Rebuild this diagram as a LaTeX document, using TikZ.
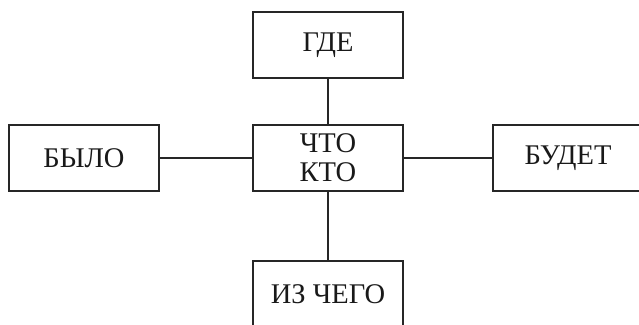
\documentclass[tikz,border=0pt]{standalone}
\usepackage{fontspec}
\setmainfont{Liberation Serif}
\begin{document}
\begin{tikzpicture}[x=1pt,y=1pt,
  box/.style={draw=black!85, line width=1.1pt, minimum width=150pt, minimum height=66pt,
    inner sep=0pt, align=center, font=\fontsize{28.5}{29}\selectfont, text=black!90},
  link/.style={draw=black!85, line width=1.1pt}]
\useasboundingbox (0,0) rectangle (639,324);
\clip (0,0) rectangle (639,324);
\node[box] (c) at (328,166) {ЧТО\\КТО};
\node[box] (t) at (328,279) {ГДЕ};
\node[box] (l) at (84,166) {БЫЛО};
\node[box] (r) at (568,166) {БУДЕТ};
\node[box] (b) at (328,30) {ИЗ ЧЕГО};
\draw[link] (c) -- (t);
\draw[link] (c) -- (l);
\draw[link] (c) -- (r);
\draw[link] (c) -- (b);
\end{tikzpicture}
\end{document}
